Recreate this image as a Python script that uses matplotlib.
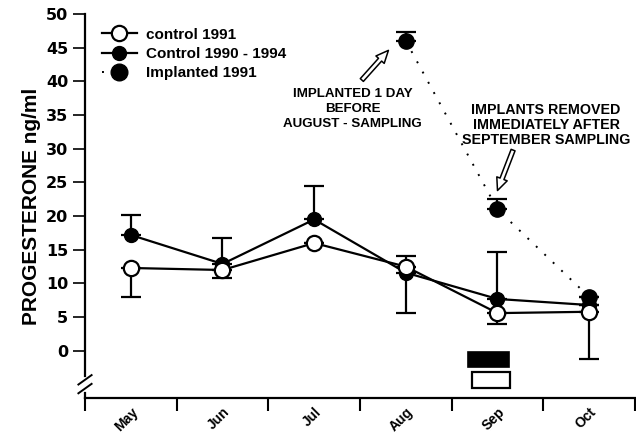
import matplotlib
matplotlib.use("Agg")
import matplotlib.pyplot as plt
from matplotlib.lines import Line2D
from matplotlib.patches import Rectangle

plt.rcParams['font.family'] = ['Liberation Sans', 'DejaVu Sans']
plt.rcParams['font.weight'] = 'bold'

months = ["May", "Jun", "Jul", "Aug", "Sep", "Oct"]
ctrl91 = [12.3, 12.0, 16.0, 12.5, 5.6, 5.8]
ctrl91_err_lo = [4.3, 1.2, 0.0, 0.0, 1.6, 7.0]
ctrl91_err_hi = [0.0, 0.0, 0.0, 1.6, 0.0, 0.0]
ctrl9094 = [17.2, 12.9, 19.5, 11.6, 7.7, 6.8]
ctrl9094_err_lo = [0.0, 0.0, 0.0, 6.0, 0.0, 0.0]
ctrl9094_err_hi = [3.0, 3.9, 5.0, 0.0, 7.0, 0.0]
impl_idx = [3, 4, 5]
impl91 = [46.0, 21.0, 8.0]
impl91_err_hi = [1.4, 1.5, 0.0]
impl91_err_lo = [0.0, 0.0, 0.0]
yticks = [0, 5, 10, 15, 20, 25, 30, 35, 40, 45, 50]

fig = plt.figure(figsize=(6.36, 4.36), dpi=100)
ax = fig.add_axes([85/636, 1-398/436, 550/636, (398-14)/436])
x = list(range(len(months)))

lw = 1.6
ax.errorbar(x, ctrl9094, yerr=[ctrl9094_err_lo, ctrl9094_err_hi], color='black', lw=lw,
            marker='o', ms=10, mfc='black', mec='black', capsize=7, capthick=lw, elinewidth=lw, zorder=3)
ax.errorbar(x, ctrl91, yerr=[ctrl91_err_lo, ctrl91_err_hi], color='black', lw=lw,
            marker='o', ms=11, mfc='white', mec='black', mew=1.6, capsize=7, capthick=lw, elinewidth=lw, zorder=4)
ax.errorbar(impl_idx, impl91, yerr=[impl91_err_lo, impl91_err_hi], color='black', lw=1.4, ls=(0, (1, 5)),
            marker='o', ms=11, mfc='black', mec='black', capsize=7, capthick=lw, elinewidth=lw, zorder=5)

ax.set_xlim(-0.5, 5.5)
ax.set_ylim(-7.0, 50)
ax.set_yticks(yticks)
ax.set_yticklabels([str(v) for v in yticks], fontsize=11.5, fontweight='bold', family=['DejaVu Sans'])
ax.set_xticks([i - 0.5 for i in range(len(months) + 1)])
ax.set_xticklabels([])
ax.set_xticks(x, minor=True)
ax.set_xticklabels(months, minor=True, rotation=45, ha='right', rotation_mode='anchor',
                   fontsize=10, fontweight='bold')
ax.tick_params(axis='x', which='major', direction='out', length=9, width=1.5)
ax.tick_params(axis='x', which='minor', length=0, pad=5)
ax.tick_params(axis='y', direction='out', length=9, width=1.2, pad=3)

ax.spines['top'].set_visible(False)
ax.spines['right'].set_visible(False)
ax.spines['left'].set_linewidth(1.6)
ax.spines['bottom'].set_linewidth(1.6)
ax.spines['left'].set_bounds(-3.8, 50)

# axis break marks
tr = ax.get_yaxis_transform()
ax.plot([0, 0], [-6.3, -7.0], transform=tr, color='black', lw=1.6, clip_on=False)
for yb in (-4.3, -5.6):
    ax.plot([-0.012, 0.012], [yb - 0.7, yb + 0.7], transform=tr, color='black', lw=1.4, clip_on=False)

ax.set_ylabel("PROGESTERONE ng/ml", fontsize=15, fontweight='bold', labelpad=4)

# treatment bars under September
ax.add_patch(Rectangle((3.68, -2.4), 0.45, 2.2, facecolor='black', edgecolor='black', lw=1.2))
ax.add_patch(Rectangle((3.72, -5.5), 0.42, 2.3, facecolor='white', edgecolor='black', lw=1.6))

# annotations
astyle = dict(arrowstyle='simple,head_length=0.9,head_width=0.8,tail_width=0.3',
              fc='white', ec='black', lw=1.1, shrinkA=0, shrinkB=0)
ax.text(2.42, 35.9, "IMPLANTED 1 DAY\nBEFORE\nAUGUST - SAMPLING", ha='center', va='center',
        fontsize=9.6, fontweight='bold', linespacing=1.32)
ax.annotate("", xy=(2.81, 44.6), xytext=(2.52, 40.2), arrowprops=astyle)
ax.text(4.53, 33.5, "IMPLANTS REMOVED\nIMMEDIATELY AFTER\nSEPTEMBER SAMPLING", ha='center', va='center',
        fontsize=10.3, fontweight='bold', linespacing=1.12)
ax.annotate("", xy=(4.0, 23.8), xytext=(4.17, 29.8), arrowprops=astyle)

handles = [
    Line2D([], [], color='black', lw=lw, marker='o', ms=11, mfc='white', mec='black', mew=1.6),
    Line2D([], [], color='black', lw=lw, marker='o', ms=10, mfc='black', mec='black'),
    Line2D([], [], color='black', lw=1.4, ls=(0, (1, 5)), marker='o', ms=12, mfc='black', mec='black'),
]
ax.legend(handles, ["control 1991", "Control 1990 - 1994", "Implanted 1991"], loc='upper left',
          bbox_to_anchor=(0.005, 1.0), frameon=False, prop={'size': 11, 'weight': 'bold'},
          handlelength=2.3, handletextpad=0.6, labelspacing=0.35, borderaxespad=0.5)

fig.savefig("out.png", dpi=100)
